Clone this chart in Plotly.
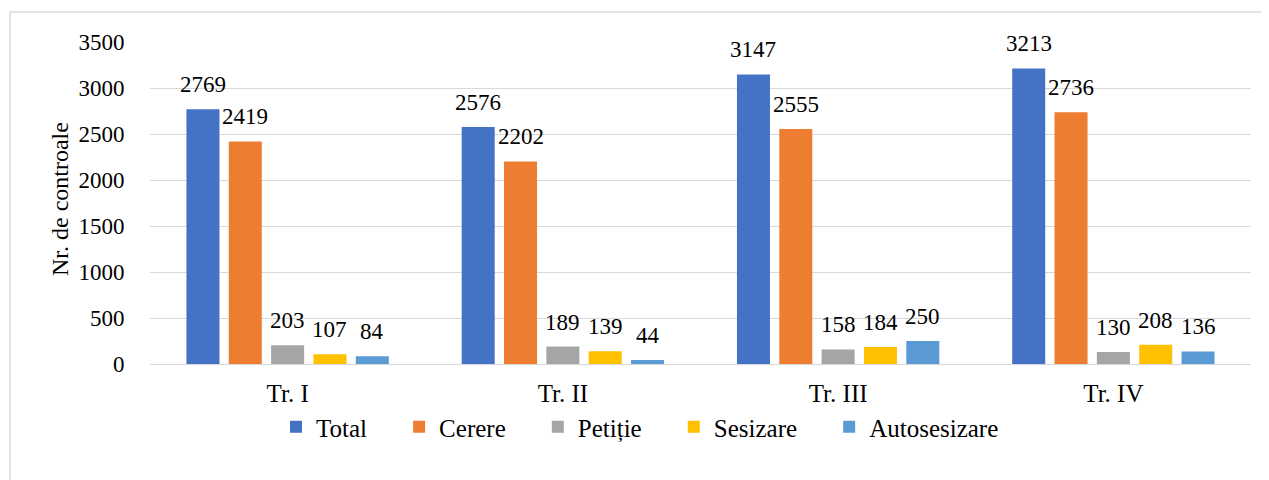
import plotly.graph_objects as go

categories = ["Tr. I", "Tr. II", "Tr. III", "Tr. IV"]
series_names = ["Total", "Cerere", "Petiție", "Sesizare", "Autosesizare"]
total = [2769, 2576, 3147, 3213]
cerere = [2419, 2202, 2555, 2736]
petitie = [203, 189, 158, 130]
sesizare = [107, 139, 184, 208]
autosesizare = [84, 44, 250, 136]
colors = ["#4472C4", "#ED7D31", "#A5A5A5", "#FFC000", "#5B9BD5"]
y_ticks = [0, 500, 1000, 1500, 2000, 2500, 3000, 3500]

series_values = [total, cerere, petitie, sesizare, autosesizare]

FONT = "Liberation Serif"
OFF = 8  # page body margin
W, H = 1269 - OFF, 480 - OFF
ML, MT = 150 - OFF, 42 - OFF
MR = W - (1251 - OFF)
MB = H - (364 - OFF)
plot_w = W - ML - MR
plot_h = H - MT - MB
BARGAP = 0.231
BARGROUPGAP = 0.22
cat_w = plot_w / len(categories)
slot = cat_w * (1 - BARGAP) / len(series_names)

def px_x(px):
    return (px - 150) / plot_w

def px_y(py):
    return (364 - py) / plot_h

fig = go.Figure()
pad = "\u00a0" * 4 + "\u200a"
for name, vals, col in zip(series_names, series_values, colors):
    fig.add_trace(go.Bar(
        x=categories, y=vals, name=name + pad,
        marker=dict(color=col, line=dict(width=0)),
    ))

annotations = []
for i, vals in enumerate(series_values):
    for c, v in zip(categories, vals):
        annotations.append(dict(
            x=c, y=v, xref="x", yref="y", text=str(v), showarrow=False,
            xshift=(i - 2) * slot, yshift=10, yanchor="bottom", xanchor="center",
            font=dict(family=FONT, size=23, color="#000000"),
        ))

annotations.append(dict(
    x=px_x(60), y=px_y(199), xref="paper", yref="paper",
    text="Nr. de controale", textangle=-90, showarrow=False,
    xanchor="center", yanchor="middle",
    font=dict(family=FONT, size=24, color="#000000"),
))

fig.update_layout(
    width=W, height=H,
    margin=dict(l=ML, r=MR, t=MT, b=MB),
    paper_bgcolor="white", plot_bgcolor="white",
    barmode="group", bargap=BARGAP, bargroupgap=BARGROUPGAP,
    font=dict(family=FONT, size=23, color="#000000"),
    showlegend=True,
    legend=dict(
        orientation="h", x=px_x(276), xanchor="left",
        y=px_y(427), yanchor="middle",
        font=dict(family=FONT, size=25, color="#000000"),
        bgcolor="rgba(0,0,0,0)", itemclick=False,
    ),
    annotations=annotations,
    shapes=[dict(
        type="rect", xref="paper", yref="paper",
        x0=px_x(10), x1=px_x(1290),
        y0=px_y(500), y1=px_y(12),
        line=dict(color="#D9D9D9", width=1.5), fillcolor="rgba(0,0,0,0)",
        layer="below",
    )],
)
fig.update_xaxes(
    type="category", showgrid=False, showline=False, zeroline=False,
    ticks="outside", ticklen=7, tickcolor="rgba(0,0,0,0)",
    tickfont=dict(family=FONT, size=25, color="#000000"),
)
fig.update_yaxes(
    range=[0, 3500], tickvals=y_ticks, showgrid=True, gridcolor="#D9D9D9", gridwidth=1.3,
    zeroline=True, zerolinecolor="#D9D9D9", zerolinewidth=1.3, showline=False,
    ticks="outside", ticklen=20, tickcolor="rgba(0,0,0,0)",
    tickfont=dict(family=FONT, size=23, color="#000000"),
)

fig.write_html("out.html")
